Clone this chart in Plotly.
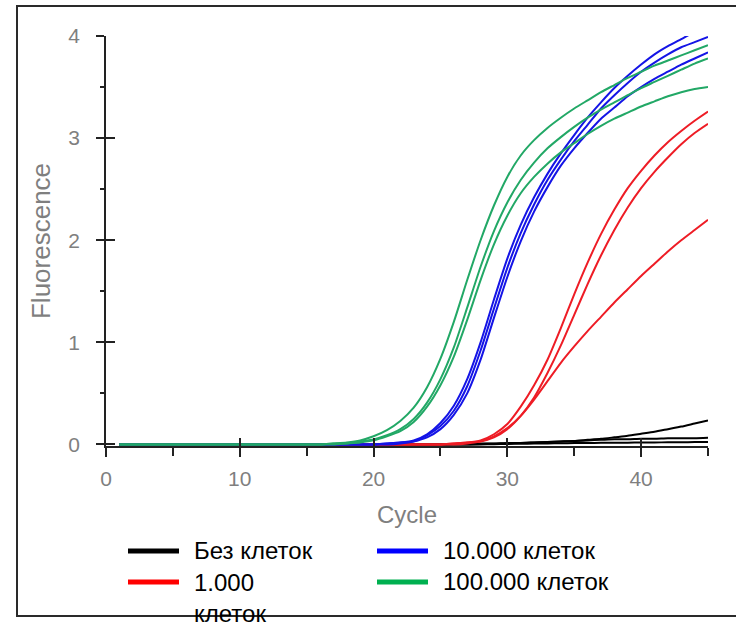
import plotly.graph_objects as go

# ---------------- data ----------------
cycles = list(range(1, 46))

# "Без клеток" (no cells)
no_cells_1 = [0, 0, 0, 0, 0, 0, 0, 0, 0, 0, 0, 0, 0, 0, 0, 0, 0, 0, 0, 0, 0, 0, 0, 0, 0,
              0.005, 0.005, 0.01, 0.01, 0.015, 0.015, 0.02, 0.025, 0.03, 0.035,
              0.045, 0.055, 0.07, 0.085, 0.105, 0.125, 0.15, 0.175, 0.205, 0.235]
no_cells_2 = [0, 0, 0, 0, 0, 0, 0, 0, 0, 0, 0, 0, 0, 0, 0, 0, 0, 0, 0, 0, 0, 0, 0, 0, 0,
              0, 0, 0.005, 0.008, 0.01, 0.015, 0.02, 0.025, 0.03, 0.035,
              0.04, 0.045, 0.05, 0.05, 0.055, 0.055, 0.06, 0.06, 0.06, 0.065]
no_cells_3 = [0, 0, 0, 0, 0, 0, 0, 0, 0, 0, 0, 0, 0, 0, 0, 0, 0, 0, 0, 0, 0, 0, 0, 0, 0,
              0, 0, 0, 0.003, 0.005, 0.007, 0.009, 0.01, 0.012, 0.014,
              0.015, 0.016, 0.017, 0.018, 0.019, 0.02, 0.021, 0.022, 0.023, 0.025]

# "1.000 клеток"
cells_1k_1 = [0, 0, 0, 0, 0, 0, 0, 0, 0, 0, 0, 0, 0, 0, 0, 0, 0, 0, 0, 0, 0, 0, 0, 0, 0,
              0.01, 0.02, 0.04, 0.10, 0.20, 0.37, 0.58, 0.83, 1.14, 1.47,
              1.78, 2.06, 2.30, 2.51, 2.68, 2.83, 2.96, 3.07, 3.17, 3.26]
cells_1k_2 = [0, 0, 0, 0, 0, 0, 0, 0, 0, 0, 0, 0, 0, 0, 0, 0, 0, 0, 0, 0, 0, 0, 0, 0, 0,
              0.01, 0.02, 0.03, 0.07, 0.15, 0.28, 0.46, 0.70, 0.97, 1.27,
              1.57, 1.85, 2.10, 2.32, 2.51, 2.67, 2.81, 2.94, 3.05, 3.14]
cells_1k_3 = [0, 0, 0, 0, 0, 0, 0, 0, 0, 0, 0, 0, 0, 0, 0, 0, 0, 0, 0, 0, 0, 0, 0, 0, 0,
              0, 0.01, 0.03, 0.08, 0.16, 0.28, 0.44, 0.62, 0.80, 0.96,
              1.11, 1.25, 1.39, 1.52, 1.65, 1.77, 1.89, 2.00, 2.10, 2.20]

# "10.000 клеток"
cells_10k_1 = [0, 0, 0, 0, 0, 0, 0, 0, 0, 0, 0, 0, 0, 0, 0, 0, 0, 0, 0, 0,
               0.01, 0.02, 0.04, 0.10, 0.21, 0.38, 0.64, 1.00, 1.42, 1.82,
               2.15, 2.42, 2.65, 2.85, 3.03, 3.20, 3.35, 3.49, 3.61, 3.72,
               3.82, 3.90, 3.97, 4.04, 4.10]
cells_10k_2 = [0, 0, 0, 0, 0, 0, 0, 0, 0, 0, 0, 0, 0, 0, 0, 0, 0, 0, 0, 0,
               0.01, 0.02, 0.03, 0.09, 0.18, 0.33, 0.57, 0.92, 1.33, 1.73,
               2.07, 2.35, 2.59, 2.79, 2.97, 3.13, 3.29, 3.42, 3.54, 3.65,
               3.74, 3.82, 3.89, 3.94, 3.99]
cells_10k_3 = [0, 0, 0, 0, 0, 0, 0, 0, 0, 0, 0, 0, 0, 0, 0, 0, 0, 0, 0, 0,
               0, 0.01, 0.03, 0.07, 0.15, 0.29, 0.50, 0.83, 1.24, 1.64,
               1.99, 2.28, 2.52, 2.73, 2.90, 3.05, 3.19, 3.30, 3.41, 3.50,
               3.58, 3.65, 3.72, 3.78, 3.84]

# "100.000 клеток"
cells_100k_1 = [0, 0, 0, 0, 0, 0, 0, 0, 0, 0, 0, 0, 0, 0, 0, 0,
                0.01, 0.02, 0.04, 0.08, 0.14, 0.23, 0.36, 0.56, 0.84, 1.20,
                1.61, 2.00, 2.34, 2.62, 2.83, 2.98, 3.10, 3.20, 3.29, 3.37,
                3.45, 3.52, 3.59, 3.65, 3.71, 3.76, 3.81, 3.86, 3.91]
cells_100k_2 = [0, 0, 0, 0, 0, 0, 0, 0, 0, 0, 0, 0, 0, 0, 0, 0,
                0.01, 0.01, 0.03, 0.05, 0.09, 0.15, 0.25, 0.41, 0.64, 0.95,
                1.34, 1.74, 2.09, 2.37, 2.59, 2.76, 2.90, 3.01, 3.11, 3.20,
                3.28, 3.35, 3.42, 3.49, 3.55, 3.61, 3.67, 3.73, 3.78]
cells_100k_3 = [0, 0, 0, 0, 0, 0, 0, 0, 0, 0, 0, 0, 0, 0, 0, 0,
                0, 0.01, 0.02, 0.04, 0.08, 0.13, 0.22, 0.37, 0.58, 0.86,
                1.22, 1.61, 1.96, 2.24, 2.46, 2.62, 2.75, 2.86, 2.95, 3.04,
                3.12, 3.19, 3.25, 3.31, 3.36, 3.41, 3.45, 3.48, 3.50]

x_tick_vals = [0, 10, 20, 30, 40]
x_minor_vals = [5, 15, 25, 35, 45]
y_tick_vals = [0, 1, 2, 3, 4]
y_minor_vals = [0.5, 1.5, 2.5, 3.5]

legend_labels = ["Без клеток", "1.000<br>клеток", "10.000 клеток", "100.000 клеток"]

# ---------------- figure ----------------
W, H = 736, 628
ML, MR, MT, MB = 106, 28, 36, 182
PW, PH = W - ML - MR, H - MT - MB


def px_x(p):
    return (p - ML) / PW


def px_y(p):
    return (H - MB - p) / PH


groups = [
    ("#000000", [no_cells_1, no_cells_2, no_cells_3]),
    ("#ee1c25", [cells_1k_1, cells_1k_2, cells_1k_3]),
    ("#1414e6", [cells_10k_1, cells_10k_2, cells_10k_3]),
    ("#22a866", [cells_100k_1, cells_100k_2, cells_100k_3]),
]

fig = go.Figure()
for color, series_list in groups:
    for s in series_list:
        fig.add_trace(go.Scatter(
            x=cycles, y=s, mode="lines",
            line=dict(color=color, width=2, shape="spline", smoothing=0.6),
            showlegend=False, hoverinfo="skip"))

# invisible trace to host the overlay axes (inside half of crossing ticks)
fig.add_trace(go.Scatter(x=[None], y=[None], xaxis="x2", yaxis="y2",
                         showlegend=False, hoverinfo="skip"))

axis_col = "#222222"
tick_font = dict(family="Liberation Sans, Arial, sans-serif", size=21, color="#7f7f7f")
xtitle_font = dict(family="Liberation Sans, Arial, sans-serif", size=24, color="#7f7f7f")
ytitle_font = dict(family="Liberation Sans, Arial, sans-serif", size=26, color="#7f7f7f")

fig.update_layout(
    width=W, height=H, autosize=False,
    margin=dict(l=ML, r=MR, t=MT, b=MB, pad=0),
    paper_bgcolor="white", plot_bgcolor="white",
    showlegend=False,
    xaxis=dict(
        range=[0, 45], showline=True, linecolor=axis_col, linewidth=1.5,
        ticks="outside", ticklen=9, tickwidth=1.5, tickcolor=axis_col,
        tickmode="array", tickvals=x_tick_vals, tickfont=tick_font,
        ticklabelstandoff=4,
        minor=dict(ticks="outside", ticklen=8, tickwidth=1.5, tickcolor=axis_col,
                   tickmode="array", tickvals=x_minor_vals),
        showgrid=False, zeroline=False,
        title=dict(text="Cycle", font=xtitle_font, standoff=17),
    ),
    yaxis=dict(
        range=[-0.015, 4.0], showline=True, linecolor=axis_col, linewidth=1.5,
        ticks="outside", ticklen=8, tickwidth=1.5, tickcolor=axis_col,
        tickmode="array", tickvals=y_tick_vals, tickfont=tick_font,
        ticklabelstandoff=12,
        minor=dict(ticks="outside", ticklen=4, tickwidth=1.5, tickcolor=axis_col,
                   tickmode="array", tickvals=y_minor_vals),
        showgrid=False, zeroline=False,
        title=dict(text="Fluorescence", font=ytitle_font, standoff=10),
    ),
    xaxis2=dict(
        overlaying="x", matches="x", anchor="y2", side="bottom",
        ticks="inside", ticklen=8, tickwidth=1.5, tickcolor=axis_col,
        tickmode="array", tickvals=x_tick_vals, showticklabels=False,
        showline=False, showgrid=False, zeroline=False,
    ),
    yaxis2=dict(
        overlaying="y", matches="y", anchor="x2", side="left",
        ticks="inside", ticklen=9, tickwidth=1.5, tickcolor=axis_col,
        tickmode="array", tickvals=y_tick_vals, showticklabels=False,
        showline=False, showgrid=False, zeroline=False,
    ),
)

# outer frame of the picture
fig.add_shape(type="rect", xref="paper", yref="paper",
              x0=px_x(17), x1=px_x(745), y0=px_y(616), y1=px_y(6),
              line=dict(color="#2a2a2a", width=2), fillcolor="rgba(0,0,0,0)",
              layer="below")

# legend (swatches + labels)
legend_font = dict(family="Liberation Sans, Arial, sans-serif", size=24, color="#000000")
legend_items = [
    (legend_labels[0], "#000000", 128, 551),
    (legend_labels[1], "#ff0000", 128, 582),
    (legend_labels[2], "#0000ff", 377, 551),
    (legend_labels[3], "#00b050", 377, 582),
]
for label, color, lx, ly in legend_items:
    fig.add_shape(type="line", xref="paper", yref="paper",
                  x0=px_x(lx), x1=px_x(lx + 51), y0=px_y(ly), y1=px_y(ly),
                  line=dict(color=color, width=5))
    if "<br>" in label:
        fig.add_annotation(text=label, xref="paper", yref="paper",
                           x=px_x(lx + 65), y=px_y(628), xanchor="left", yanchor="bottom",
                           align="left", showarrow=False, font=legend_font,
                           borderpad=0)
    else:
        fig.add_annotation(text=label, xref="paper", yref="paper",
                           x=px_x(lx + 65), y=px_y(ly - 1), xanchor="left", yanchor="middle",
                           align="left", showarrow=False, font=legend_font,
                           borderpad=0)

fig.write_html("out.html")
